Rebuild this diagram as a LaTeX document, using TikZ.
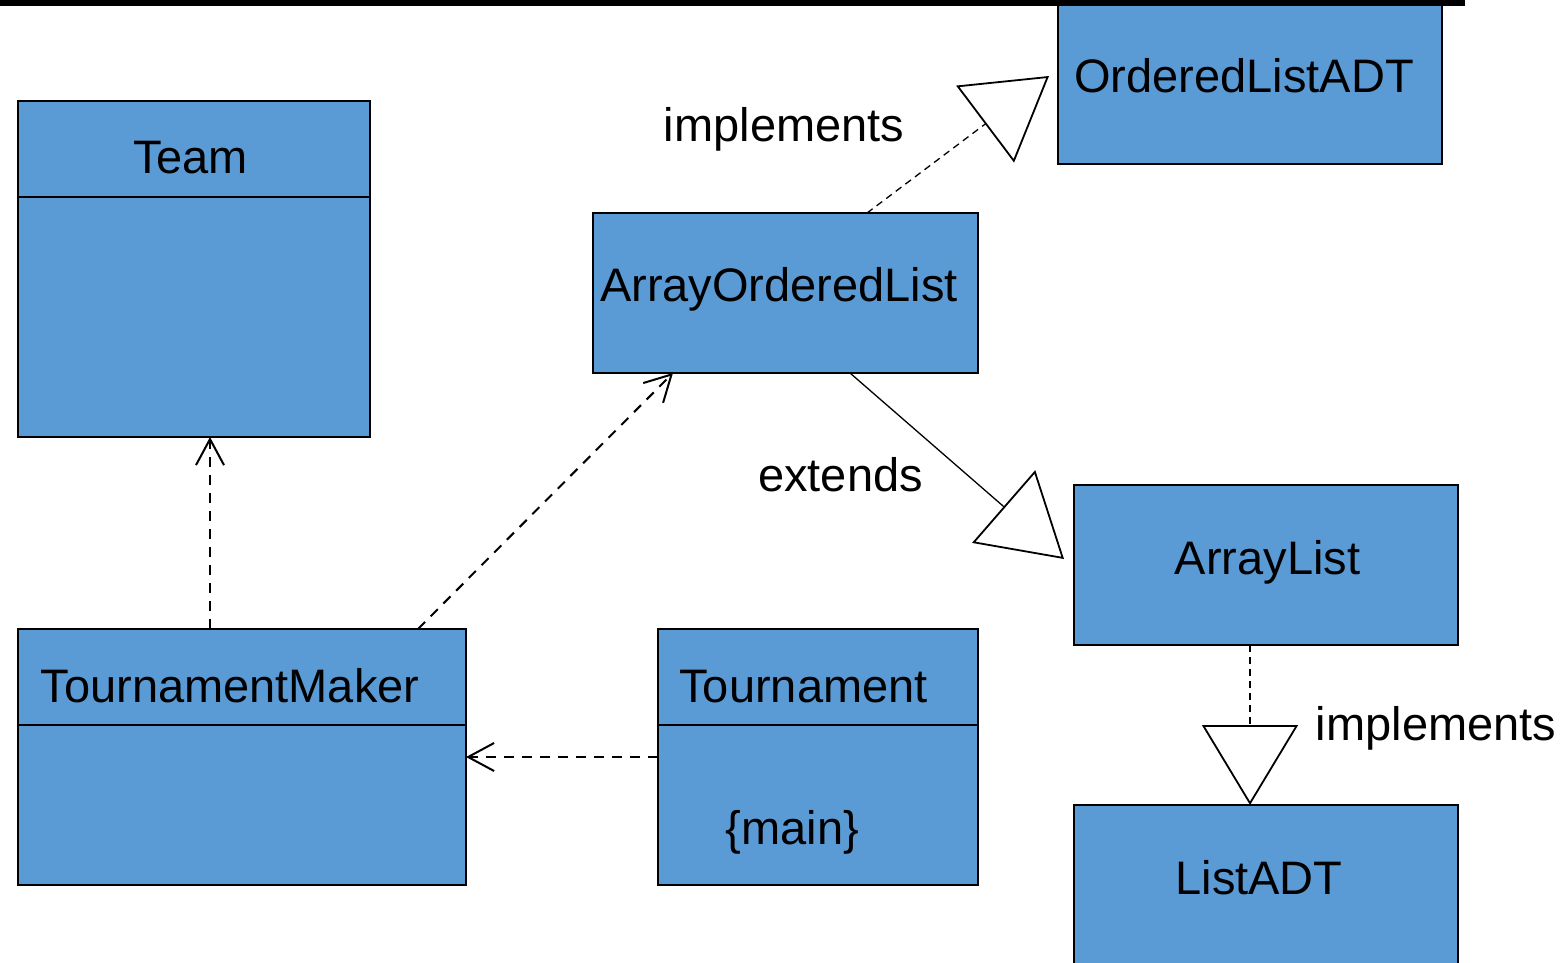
\documentclass[tikz,border=0pt]{standalone}
\usepackage{fontspec}
\setmainfont{Liberation Sans}
\usetikzlibrary{arrows.meta,calc}
\definecolor{classblue}{RGB}{91,155,213}
\tikzset{
  classbox/.style={draw=black, fill=classblue, line width=2pt, inner sep=0pt, outer sep=0pt, anchor=north west},
  lbl/.style={inner sep=0pt, anchor=base, font=\fontsize{47}{56}\selectfont},
  dep/.style={line width=2pt, dash pattern=on 10pt off 8pt, -{Straight Barb[length=26pt,width=28pt,line width=2pt]}},
  realize/.style={line width=1.3pt, dash pattern=on 7pt off 5pt, -{Triangle[length=80pt,width=96pt,fill=white,line width=1.8pt]}},
  generalize/.style={line width=1.3pt, -{Triangle[length=80pt,width=96pt,fill=white,line width=1.8pt]}}
}
\begin{document}
\begin{tikzpicture}[x=1pt,y=-1pt]
\useasboundingbox (0,0) rectangle (1568,963);
\clip (0,0) rectangle (1568,963);

% class boxes
\node[classbox, minimum width=352pt, minimum height=336pt] (team) at (18,101) {};
\draw[line width=2pt] (18,197) -- (370,197);
\node[lbl] (teamname) at (190.5,173) {Team};

\node[classbox, minimum width=448pt, minimum height=256pt] (tm) at (18,629) {};
\draw[line width=2pt] (18,725) -- (466,725);
\node[lbl] (tmname) at (230,702) {TournamentMaker};

\node[classbox, minimum width=320pt, minimum height=256pt] (tour) at (658,629) {};
\draw[line width=2pt] (658,725) -- (978,725);
\node[lbl] (tourname) at (803.5,702) {Tournament};
\node[lbl] (tourmain) at (792.5,844) {\{main\}};

\node[classbox, minimum width=385pt, minimum height=160pt] (aol) at (593,213) {};
\node[lbl] (aolname) at (779,301) {ArrayOrderedList};

\node[classbox, minimum width=384pt, minimum height=194pt] (oladt) at (1058,-30) {};
\node[lbl] (oladtname) at (1244,93) {OrderedListADT};

\node[classbox, minimum width=384pt, minimum height=160pt] (al) at (1074,485) {};
\node[lbl] (alname) at (1267.5,574) {ArrayList};

\node[classbox, minimum width=384pt, minimum height=200pt] (ladt) at (1074,805) {};
\node[lbl] (ladtname) at (1259,894) {ListADT};

% relation labels
\node[lbl] (impl1) at (784,142) {implements};
\node[lbl] (ext) at (840.5,491) {extends};
\node[lbl] (impl2) at (1436,740) {implements};

% dependencies
\draw[dep] ($(tm.north west)+(192,0)$) -- ($(team.south west)+(192,0)$);
\draw[dep] ($(tm.north west)+(400,0)$) -- ($(aol.south west)+(80,0)$);
\draw[dep] (tour.west) -- (tm.east);

% realization and generalization
\draw[realize] ($(aol.north west)+(274,0)$) -- ($(oladt.south west)+(-9,-88)$);
\draw[generalize] ($(aol.south west)+(257,0)$) -- ($(al.south west)+(-10,-86)$);
\draw[realize] ($(al.south west)+(176,0)$) -- ($(ladt.north west)+(176,0)$);

% top rule
\fill[black] (0,0) rectangle (1465,6);
\end{tikzpicture}
\end{document}
